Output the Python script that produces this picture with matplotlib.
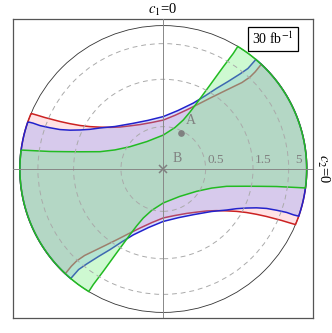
import numpy as np
import matplotlib
matplotlib.use("Agg")
import matplotlib.pyplot as plt
from matplotlib.patches import Polygon, Circle

plt.rcParams['font.family'] = ['Liberation Serif', 'DejaVu Serif']
plt.rcParams['mathtext.fontset'] = 'stix'

inf = np.inf

# boundary curves in polar form: angle (deg) in the (c1, c2) plane and radius |c|
# upper branches
red_up_t = [157.2, 156.9, 156.5, 155.3, 154.1, 152.4, 150.0, 146.6, 142.0, 135.9, 127.8, 117.6,
            103.7, 90.0, 77.7, 68.4, 61.8, 56.6, 52.6, 49.6, 47.7, 46.7, 46.6, 46.9]
red_up_r = [inf, 14.9, 6.3, 2.96, 2.155, 1.66, 1.337, 1.10, 0.914, 0.777, 0.681, 0.612,
            0.579, 0.594, 0.687, 0.836, 1.038, 1.34, 1.777, 2.45, 3.35, 5.31, 9.48, inf]
blue_up_t = [160.8, 160.6, 160.6, 160.0, 159.1, 157.4, 154.9, 151.6, 147.1, 138.7, 123.7, 107.5,
             90.0, 75.9, 65.5, 60.3, 56.5, 53.5, 51.1, 49.9, 49.8]
blue_up_r = [inf, 17.5, 7.14, 3.92, 2.66, 1.998, 1.585, 1.296, 1.087, 0.851, 0.685, 0.625,
             0.647, 0.777, 1.016, 1.315, 1.785, 2.512, 4.21, 7.56, inf]
green_up_t = [172.4, 172.1, 171.2, 170.0, 168.3, 164.7, 158.5, 146.2, 120.7, 90.0, 74.3, 67.8,
              64.9, 63.1, 60.9, 59.6, 58.8, 58.7]
green_up_r = [inf, 10.3, 3.06, 1.937, 1.345, 0.875, 0.641, 0.470, 0.365, 0.390, 0.510, 0.655,
              0.824, 1.045, 1.755, 3.59, 10.97, inf]

# lower branches
red_lo_t = [-22.8, -23.1, -23.5, -24.7, -25.9, -27.6, -30.0, -33.4, -38.0, -44.1, -52.2, -62.4,
            -76.3, -90.0, -102.3, -111.6, -118.2, -123.4, -127.4, -130.4, -132.3, -133.3, -133.4, -133.1]
red_lo_r = [inf, 14.9, 6.3, 2.96, 2.155, 1.66, 1.337, 1.10, 0.914, 0.777, 0.681, 0.612,
            0.579, 0.594, 0.687, 0.836, 1.038, 1.34, 1.777, 2.45, 3.35, 5.31, 9.48, inf]
blue_lo_t = [-19.2, -19.4, -19.4, -20.0, -20.9, -22.6, -25.1, -28.4, -32.9, -41.3, -56.3, -72.5,
             -90.0, -104.1, -114.5, -119.7, -123.5, -126.5, -128.9, -130.1, -130.2]
blue_lo_r = [inf, 17.5, 7.14, 3.92, 2.66, 1.998, 1.585, 1.296, 1.087, 0.851, 0.685, 0.625,
             0.647, 0.777, 1.016, 1.315, 1.785, 2.512, 4.21, 7.56, inf]
green_lo_t = [-7.6, -7.9, -8.8, -10.0, -11.7, -15.3, -21.5, -33.8, -59.3, -90.0, -105.7, -112.2,
              -115.1, -116.9, -119.1, -120.4, -121.2, -121.3]
green_lo_r = [inf, 10.3, 3.06, 1.937, 1.345, 0.875, 0.641, 0.470, 0.365, 0.390, 0.510, 0.655,
              0.824, 1.045, 1.755, 3.59, 10.97, inf]

grid_r = [0.5, 1.5, 5]
grid_labels = ["0.5", "1.5", "5"]

pointA_t, pointA_r = 64.0, 0.463


def rho(r):
    return 2 / np.pi * np.arctan(np.asarray(r, dtype=float))


def to_xy(t, r):
    t = np.radians(np.asarray(t, dtype=float))
    p = rho(r)
    return p * np.cos(t), p * np.sin(t)


def region(up_t, up_r, lo_t, lo_r):
    xu, yu = to_xy(up_t, up_r)
    xl, yl = to_xy(lo_t, lo_r)
    a1 = np.radians(np.linspace(up_t[-1], lo_t[0], 80))
    a2 = np.radians(np.linspace(lo_t[-1], up_t[0] - 360, 80))
    xs = np.concatenate([xu, np.cos(a1), xl, np.cos(a2)])
    ys = np.concatenate([yu, np.sin(a1), yl, np.sin(a2)])
    return np.column_stack([xs, ys])


fig = plt.figure(figsize=(3.32, 3.33), dpi=100)
ax = fig.add_axes([13 / 332, 15 / 333, 300 / 332, 299 / 333])
ax.set_xlim(-1.048, 1.044)
ax.set_ylim(-1.039, 1.046)
ax.set_xticks([])
ax.set_yticks([])
for s in ax.spines.values():
    s.set_color('#555555')
    s.set_linewidth(0.9)

ax.add_patch(Circle((0, 0), 1, fill=False, ec='#333333', lw=0.6, zorder=0.5))

ax.add_patch(Polygon(region(red_up_t, red_up_r, red_lo_t, red_lo_r),
                     fc=(1.0, 0.55, 0.6, 0.25), ec='#cc2222', lw=1.1, zorder=1))
ax.add_patch(Polygon(region(blue_up_t, blue_up_r, blue_lo_t, blue_lo_r),
                     fc=(0.49, 0.58, 1.0, 0.3), ec='#2222cc', lw=1.1, zorder=2))
ax.add_patch(Polygon(region(green_up_t, green_up_r, green_lo_t, green_lo_r),
                     fc=(0.45, 0.94, 0.49, 0.35), ec='#22bb22', lw=1.1, zorder=3))

for r in grid_r:
    ax.add_patch(Circle((0, 0), rho(r), fill=False, ec='#aaaaaa', lw=0.7,
                        ls=(0, (5, 4)), zorder=4))
ax.axhline(0, color='#888888', lw=0.7, zorder=4)
ax.axvline(0, color='#888888', lw=0.7, zorder=4)

for r, lab, dx in zip(grid_r, grid_labels, [1.5, 1.5, 4.5]):
    ax.annotate(lab, (rho(r), 0), xytext=(dx, 4), textcoords='offset points',
                ha='left', va='baseline', fontsize=9.5, color='#808080', zorder=5)

xa, ya = to_xy(pointA_t, pointA_r)
ax.plot(xa, ya, 'o', color='#808080', ms=3.8, zorder=6)
ax.annotate("A", (xa, ya), xytext=(7.4, 9.6), textcoords='offset points',
            ha='center', va='center', fontsize=10, color='#808080', zorder=6)
ax.plot(0, 0, 'x', color='#808080', ms=6, mew=1.1, zorder=6)
ax.annotate("B", (0, 0), xytext=(9.9, 7.9), textcoords='offset points',
            ha='center', va='center', fontsize=10, color='#808080', zorder=6)

ax.text(0.867, 0.933, r"30 fb$^{-1}$", transform=ax.transAxes, ha='center', va='center',
        fontsize=10, zorder=7,
        bbox=dict(boxstyle='square,pad=0.3', fc='white', ec='black', lw=0.9))

fig.text(163 / 332, 1 - 10 / 333, r"$c_1$=0", ha='center', va='center', fontsize=10.5)
fig.text(323 / 332, 1 - 169 / 333, r"$c_2$=0", ha='center', va='center', fontsize=10.5,
         rotation=-90)

fig.savefig("out.png", dpi=100)
